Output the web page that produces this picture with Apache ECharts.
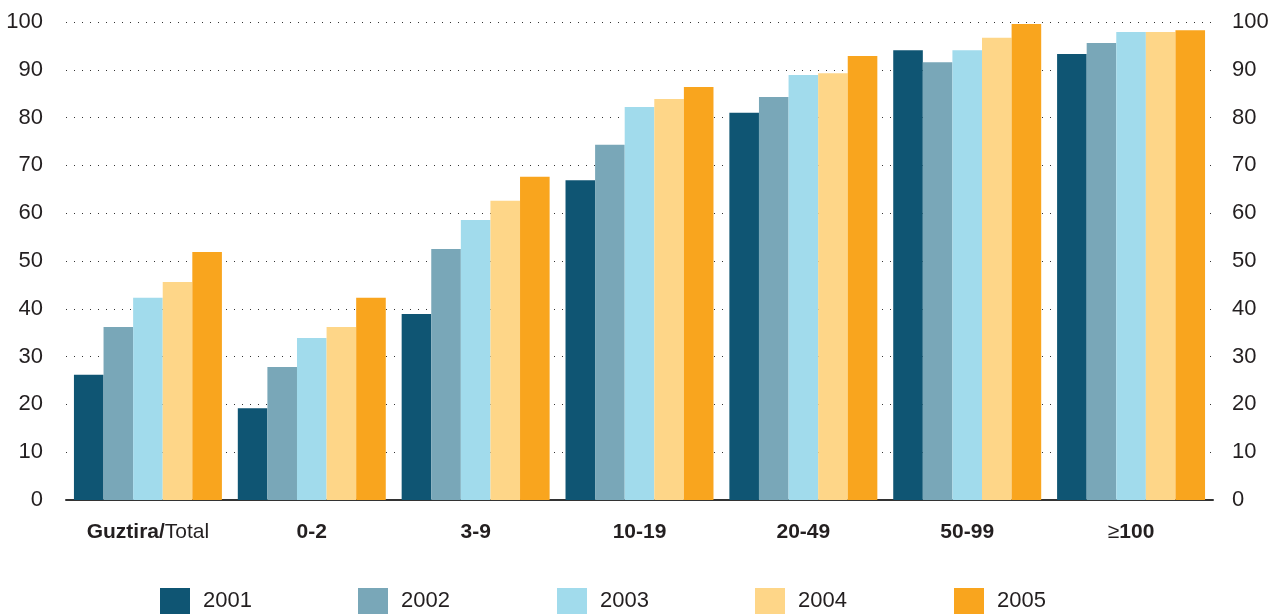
<!DOCTYPE html>
<html><head><meta charset="utf-8">
<script src="https://cdn.jsdelivr.net/npm/echarts@6/dist/echarts.min.js"></script>
<style>html,body{margin:0;padding:0;background:#fff}#c{width:1276px;height:614px}</style>
</head><body><div id="c"></div>
<script>
const categories = ['Guztira/Total', '0-2', '3-9', '10-19', '20-49', '50-99', '≥100'];
const years = ['2001', '2002', '2003', '2004', '2005'];
const v2001 = [26.2, 19.2, 38.9, 66.9, 81.0, 94.1, 93.3];
const v2002 = [36.2, 27.8, 52.5, 74.3, 84.3, 91.6, 95.6];
const v2003 = [42.3, 33.9, 58.6, 82.2, 88.9, 94.1, 97.9];
const v2004 = [45.6, 36.2, 62.6, 83.9, 89.3, 96.7, 97.9];
const v2005 = [51.9, 42.3, 67.6, 86.4, 92.9, 99.6, 98.3];
const colors = ['#0f5573', '#79a7b8', '#a1dbec', '#fed688', '#f9a51e'];
const seriesValues = [v2001, v2002, v2003, v2004, v2005];
const legendLeft = [160, 358, 557, 755, 954];

const txt = '#231f20';
const chart = echarts.init(document.getElementById('c'));
chart.setOption({
  animation: false,
  textStyle: {fontFamily: 'Liberation Sans, Arial, sans-serif'},
  grid: {left: 66, right: 63, top: 22, bottom: 114},
  legend: years.map((y, i) => ({
    data: [y], left: legendLeft[i], top: 588, padding: 0, itemWidth: 30, itemHeight: 26, itemGap: 0,
    icon: 'rect', textStyle: {fontSize: 22, color: txt, padding: [2, 0, 0, 8]}
  })),
  xAxis: {
    type: 'category', data: categories,
    axisTick: {show: false},
    axisLine: {lineStyle: {color: '#333', width: 2}},
    axisLabel: {
      interval: 0, margin: 22, color: txt, fontSize: 21,
      formatter: function (v) {
        if (v === 'Guztira/Total') return '{b|Guztira/}{n|Total}';
        if (v === '≥100') return '{n|≥}{b|100}';
        return '{b|' + v + '}';
      },
      rich: {
        b: {fontWeight: 'bold', fontSize: 21, color: txt},
        n: {fontWeight: 'normal', fontSize: 21, color: txt}
      }
    }
  },
  yAxis: [
    {type: 'value', min: 0, max: 100, interval: 10, position: 'left',
     axisLine: {show: false}, axisTick: {show: false},
     axisLabel: {margin: 23, fontSize: 22, color: txt},
     splitLine: {lineStyle: {color: '#333', type: [1, 7], width: 1}}},
    {type: 'value', min: 0, max: 100, interval: 10, position: 'right',
     axisLine: {show: false}, axisTick: {show: false},
     axisLabel: {margin: 19, fontSize: 22, color: txt},
     splitLine: {show: false}}
  ],
  series: years.map((y, i) => ({
    name: y, type: 'bar', data: seriesValues[i], barGap: '0%', barCategoryGap: '9.7%',
    itemStyle: {color: colors[i]}
  }))
});
</script></body></html>
